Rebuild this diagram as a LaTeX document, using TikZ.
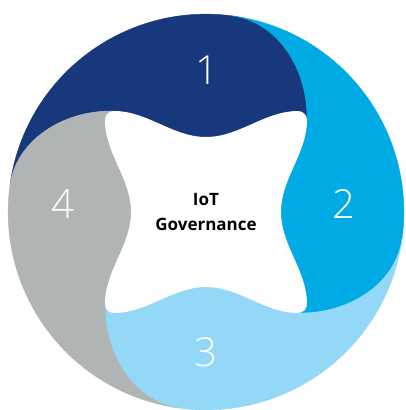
\documentclass[tikz,border=0pt]{standalone}
\usepackage{fontspec}
\setmainfont{Open Sans}
% thin face for the segment numbers, regular weight if it is not installed
\IfFontExistsTF{Open Sans Light}
  {\newfontfamily\digitfont{Open Sans Light}}
  {\newfontfamily\digitfont{Open Sans}}
\definecolor{segnavy}{HTML}{17387C}
\definecolor{segcyan}{HTML}{00AAE4}
\definecolor{segsky}{HTML}{93D8F7}
\definecolor{seggray}{HTML}{B1B4B5}
\tikzset{
  segment/.style={fill=#1, draw=#1, line width=0.4pt},
  numlabel/.style={text=white, font=\digitfont\fontsize{40}{40}\selectfont, inner sep=0pt},
  hub/.style={fill=white},
  title/.style={text=black, font=\bfseries\fontsize{17}{25}\selectfont, align=center, inner sep=0pt}
}
% One swirl segment: from the hub corner out to the rim, round the rim,
% back in to the previous hub corner, then through the centre.
\newcommand{\swirlpath}{%
  (101,92) .. controls (102,145) and (70,190.2) .. (27,196)
  arc[start angle=82.157, end angle=172.157, radius=197.85]
  .. controls (-190.2,70) and (-145,102) .. (-92,101)
  -- (0,0) -- cycle}
\begin{document}
\begin{tikzpicture}[x=1pt, y=1pt]
  \useasboundingbox (-206,-198) rectangle (200,212);
  \fill[white] (-206,-198) rectangle (200,212);

  % four swirl segments, each a quarter turn of the first
  \path[segment=segnavy] \swirlpath;
  \path[segment=segcyan, rotate=-90] \swirlpath;
  \path[segment=segsky, rotate=-180] \swirlpath;
  \path[segment=seggray, rotate=90] \swirlpath;

  % central four-pointed hub with rounded tips
  \path[hub] (101,-92)
    .. controls (101,-58.5) and (75,-33.5) .. (75,0)
    .. controls (75,33.5) and (101,58.5) .. (101,92)
    arc[start angle=0, end angle=90, radius=9]
    .. controls (58.5,101) and (33.5,75) .. (0,75)
    .. controls (-33.5,75) and (-58.5,101) .. (-92,101)
    arc[start angle=90, end angle=180, radius=9]
    .. controls (-101,58.5) and (-75,33.5) .. (-75,0)
    .. controls (-75,-33.5) and (-101,-58.5) .. (-101,-92)
    arc[start angle=180, end angle=270, radius=9]
    .. controls (-58.5,-101) and (-33.5,-75) .. (0,-75)
    .. controls (33.5,-75) and (58.5,-101) .. (92,-101)
    arc[start angle=270, end angle=360, radius=9]
    -- cycle;

  \node[title] (hubtext) at (0,0) {IoT\\Governance};

  \node[numlabel] (n1) at (1,142) {1};
  \node[numlabel] (n2) at (138,8) {2};
  \node[numlabel] (n3) at (0,-140) {3};
  \node[numlabel] (n4) at (-143,8) {4};
\end{tikzpicture}
\end{document}
